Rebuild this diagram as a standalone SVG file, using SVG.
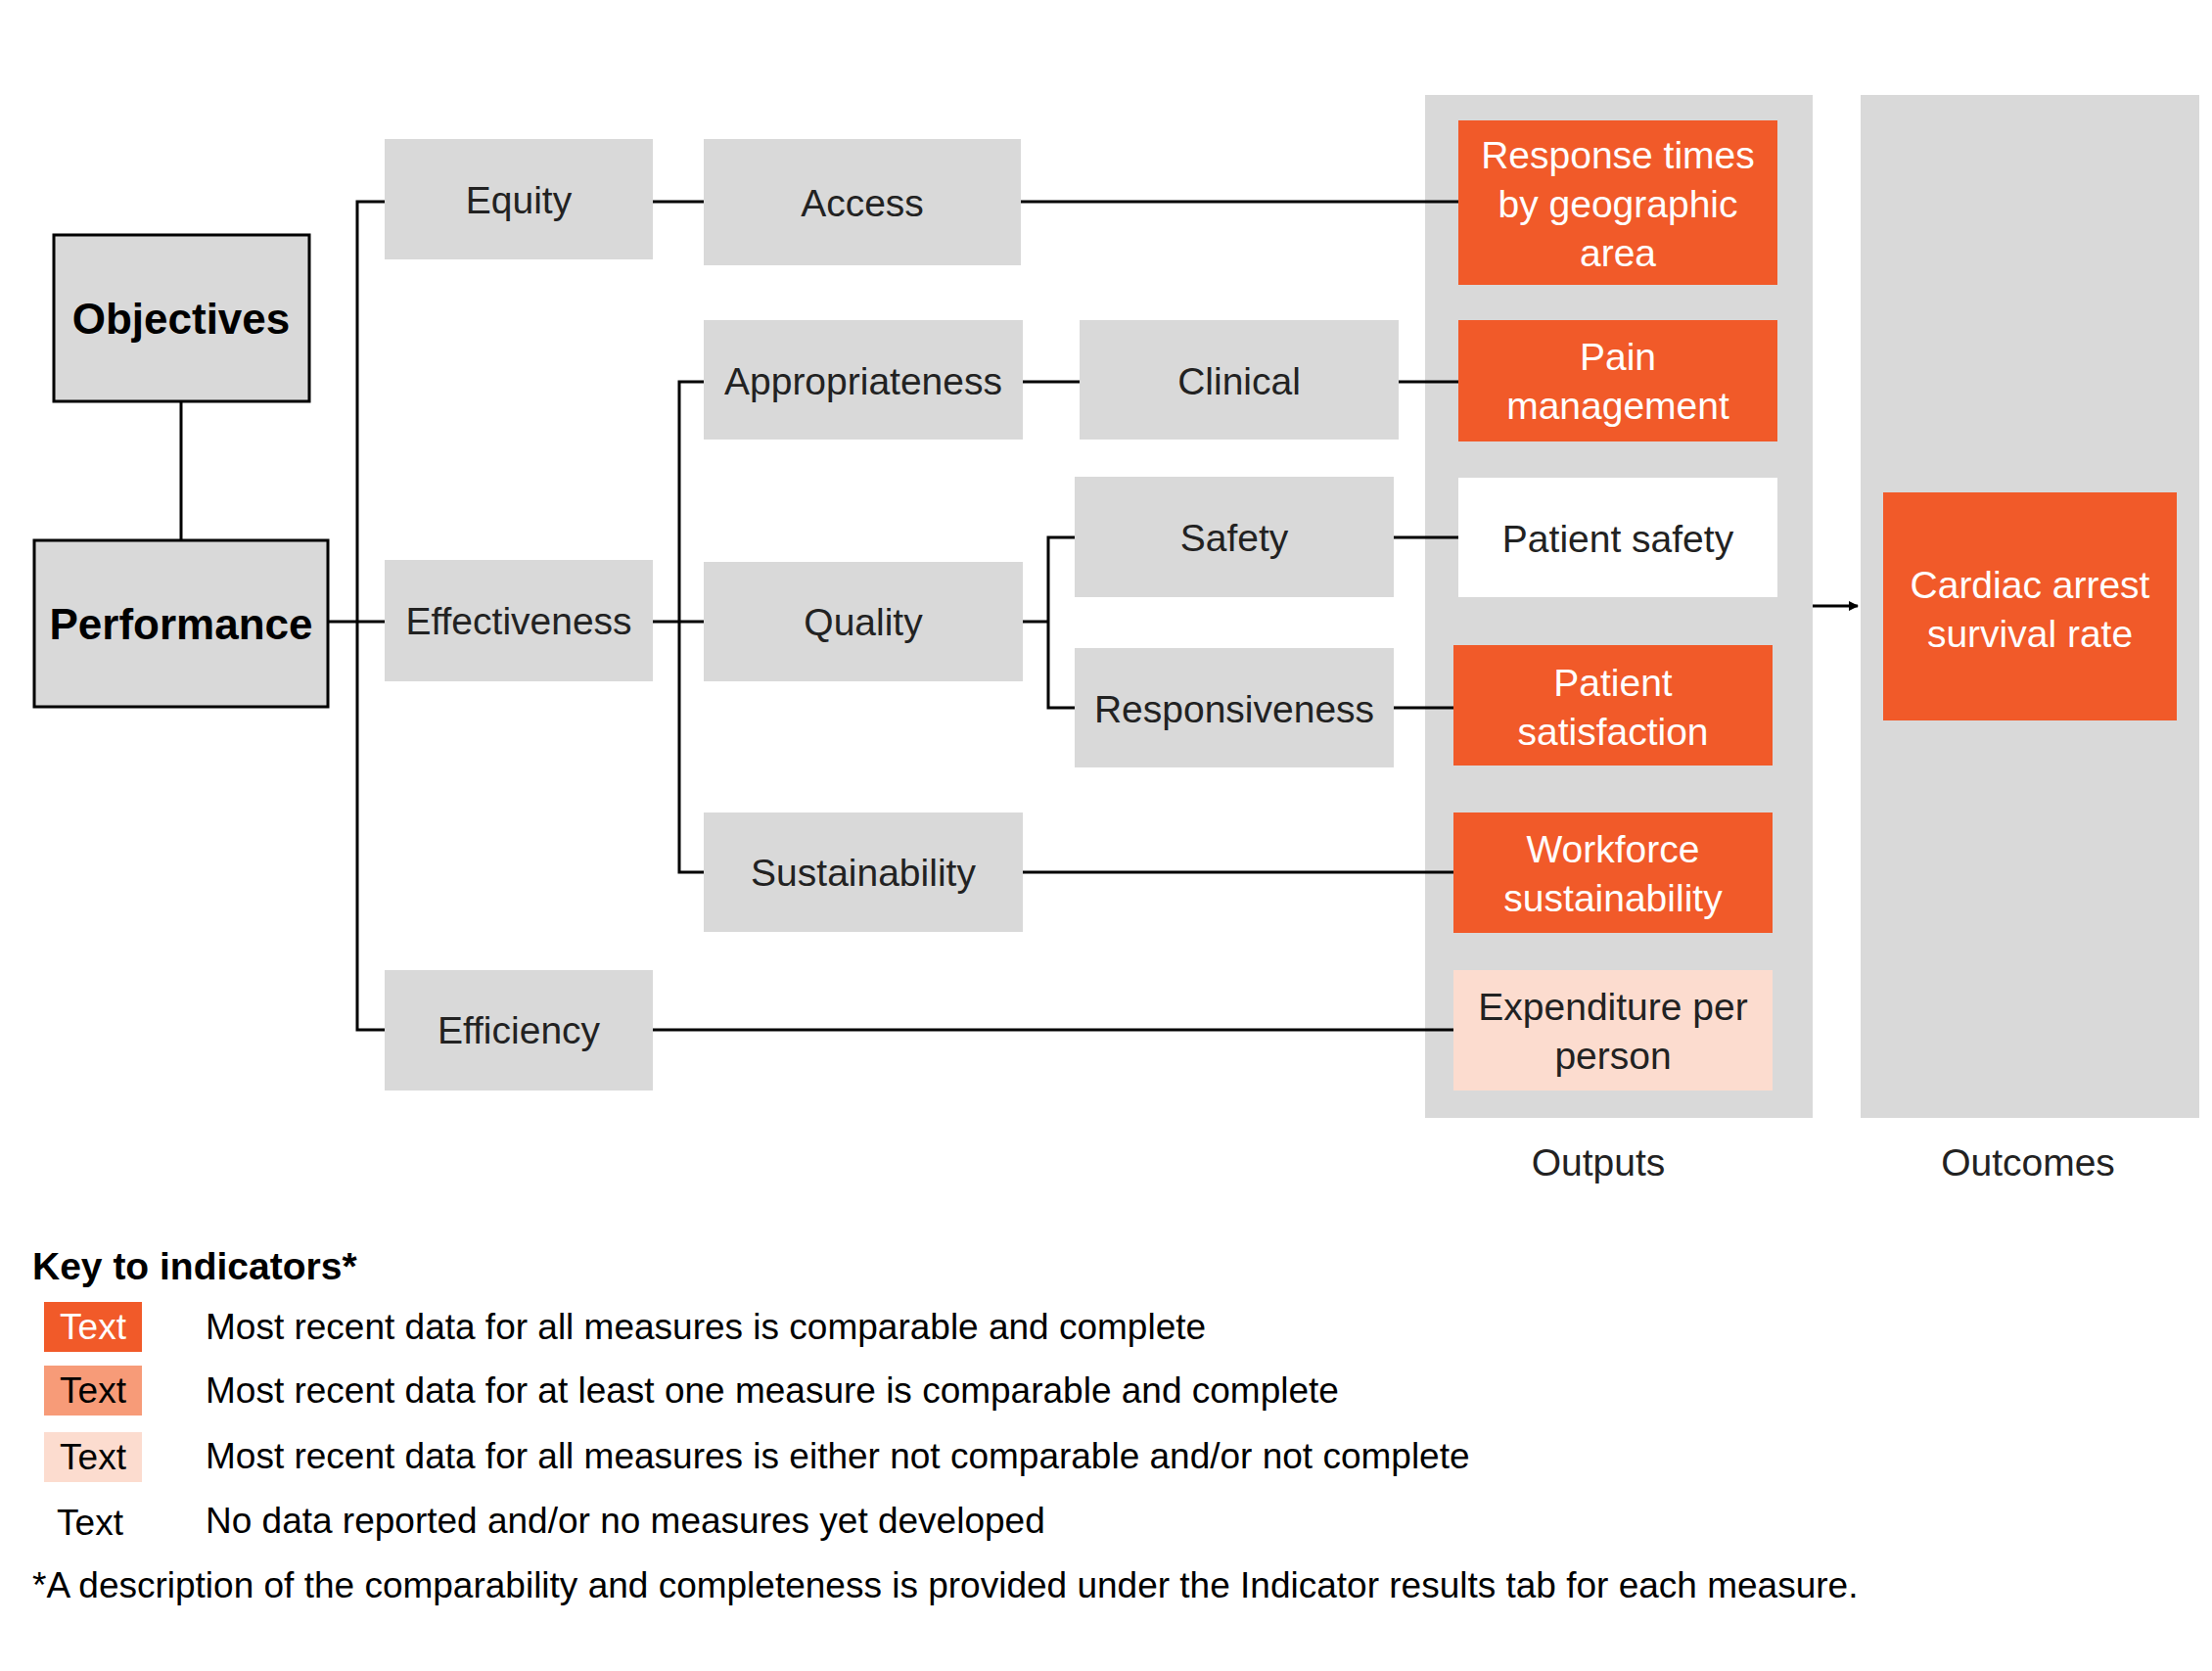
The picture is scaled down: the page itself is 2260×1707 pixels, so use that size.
<svg xmlns="http://www.w3.org/2000/svg" width="2260" height="1707" viewBox="0 0 2260 1707">
<style>
text{font-family:"Liberation Sans",Arial,sans-serif;font-size:39px;fill:#222;text-anchor:middle;dominant-baseline:central}
.g{fill:#d9d9d9}
.o{fill:#f15a29}
.ot{fill:#fff}
.b{font-weight:bold;font-size:44px;fill:#000}
.k{text-anchor:start;font-size:37px;fill:#000}
.ln{stroke:#000;stroke-width:3;fill:none}
</style>
<defs><marker id="ah" markerWidth="10" markerHeight="10" refX="9" refY="5" orient="auto" markerUnits="userSpaceOnUse" viewBox="0 0 10 10"><path d="M0,0L10,5L0,10z" fill="#000"/></marker></defs>
<rect x="0" y="0" width="2260" height="1707" fill="#fff"/>
<rect class="g" x="1456" y="97" width="396" height="1045"/>
<rect class="g" x="1901" y="97" width="346" height="1045"/>
<g id="connectors" class="ln">
<path d="M185,410V552"/>
<path d="M335,635H393"/>
<path d="M393,206H365V1052H393"/>
<path d="M667,206H719"/>
<path d="M1043,206H1490"/>
<path d="M667,635H719"/>
<path d="M719,390H694V891H719"/>
<path d="M1045,390H1103"/>
<path d="M1429,390H1490"/>
<path d="M1045,635H1071"/>
<path d="M1098,549H1071V723H1098"/>
<path d="M1424,549H1490"/>
<path d="M1424,723H1485"/>
<path d="M1045,891H1485"/>
<path d="M667,1052H1485"/>
<path d="M1852,619H1898" marker-end="url(#ah)"/>
</g>
<g id="objectives"><rect x="55" y="240" width="261" height="170" class="g" stroke="#000" stroke-width="3"/><text x="185" y="325" class="b">Objectives</text></g>
<g id="performance"><rect x="35" y="552" width="300" height="170" class="g" stroke="#000" stroke-width="3"/><text x="185" y="637" class="b">Performance</text></g>
<g id="equity"><rect class="g" x="393" y="142" width="274" height="123"/><text x="530" y="204">Equity</text></g>
<g id="effectiveness"><rect class="g" x="393" y="572" width="274" height="124"/><text x="530" y="634">Effectiveness</text></g>
<g id="efficiency"><rect class="g" x="393" y="991" width="274" height="123"/><text x="530" y="1052">Efficiency</text></g>
<g id="access"><rect class="g" x="719" y="142" width="324" height="129"/><text x="881" y="207">Access</text></g>
<g id="appropriateness"><rect class="g" x="719" y="327" width="326" height="122"/><text x="882" y="389">Appropriateness</text></g>
<g id="quality"><rect class="g" x="719" y="574" width="326" height="122"/><text x="882" y="635">Quality</text></g>
<g id="sustainability"><rect class="g" x="719" y="830" width="326" height="122"/><text x="882" y="891">Sustainability</text></g>
<g id="clinical"><rect class="g" x="1103" y="327" width="326" height="122"/><text x="1266" y="389">Clinical</text></g>
<g id="safety"><rect class="g" x="1098" y="487" width="326" height="123"/><text x="1261" y="549">Safety</text></g>
<g id="responsiveness"><rect class="g" x="1098" y="662" width="326" height="122"/><text x="1261" y="724">Responsiveness</text></g>
<g id="response-times"><rect class="o" x="1490" y="123" width="326" height="168"/><text class="ot" x="1653" y="158">Response times</text><text class="ot" x="1653" y="208">by geographic</text><text class="ot" x="1653" y="258">area</text></g>
<g id="pain"><rect class="o" x="1490" y="327" width="326" height="124"/><text class="ot" x="1653" y="364">Pain</text><text class="ot" x="1653" y="414">management</text></g>
<g id="patient-safety"><rect fill="#fff" x="1490" y="488" width="326" height="122"/><text x="1653" y="550" fill="#000">Patient safety</text></g>
<g id="patient-satisfaction"><rect class="o" x="1485" y="659" width="326" height="123"/><text class="ot" x="1648" y="697">Patient</text><text class="ot" x="1648" y="747">satisfaction</text></g>
<g id="workforce"><rect class="o" x="1485" y="830" width="326" height="123"/><text class="ot" x="1648" y="867">Workforce</text><text class="ot" x="1648" y="917">sustainability</text></g>
<g id="expenditure"><rect fill="#fcdccf" x="1485" y="991" width="326" height="123"/><text x="1648" y="1028" fill="#000">Expenditure per</text><text x="1648" y="1078" fill="#000">person</text></g>
<g id="cardiac"><rect class="o" x="1924" y="503" width="300" height="233"/><text class="ot" x="2074" y="597">Cardiac arrest</text><text class="ot" x="2074" y="647">survival rate</text></g>
<text x="1633" y="1187" fill="#000">Outputs</text>
<text x="2072" y="1187" fill="#000">Outcomes</text>
<g id="key">
<text class="k" x="33" y="1293" style="font-weight:bold;font-size:39px">Key to indicators*</text>
<rect class="o" x="45" y="1330" width="100" height="51"/><text x="95" y="1355" class="ot" style="font-size:37px">Text</text>
<rect fill="#f79b78" x="45" y="1395" width="100" height="51"/><text x="95" y="1420" style="font-size:37px;fill:#000">Text</text>
<rect fill="#fcdccf" x="45" y="1463" width="100" height="51"/><text x="95" y="1488" style="font-size:37px;fill:#000">Text</text>
<text x="92" y="1555" style="font-size:37px;fill:#000">Text</text>
<text class="k" x="210" y="1355">Most recent data for all measures is comparable and complete</text>
<text class="k" x="210" y="1420">Most recent data for at least one measure is comparable and complete</text>
<text class="k" x="210" y="1487">Most recent data for all measures is either not comparable and/or not complete</text>
<text class="k" x="210" y="1553">No data reported and/or no measures yet developed</text>
<text class="k" x="33" y="1619">*A description of the comparability and completeness is provided under the Indicator results tab for each measure.</text>
</g>
</svg>
